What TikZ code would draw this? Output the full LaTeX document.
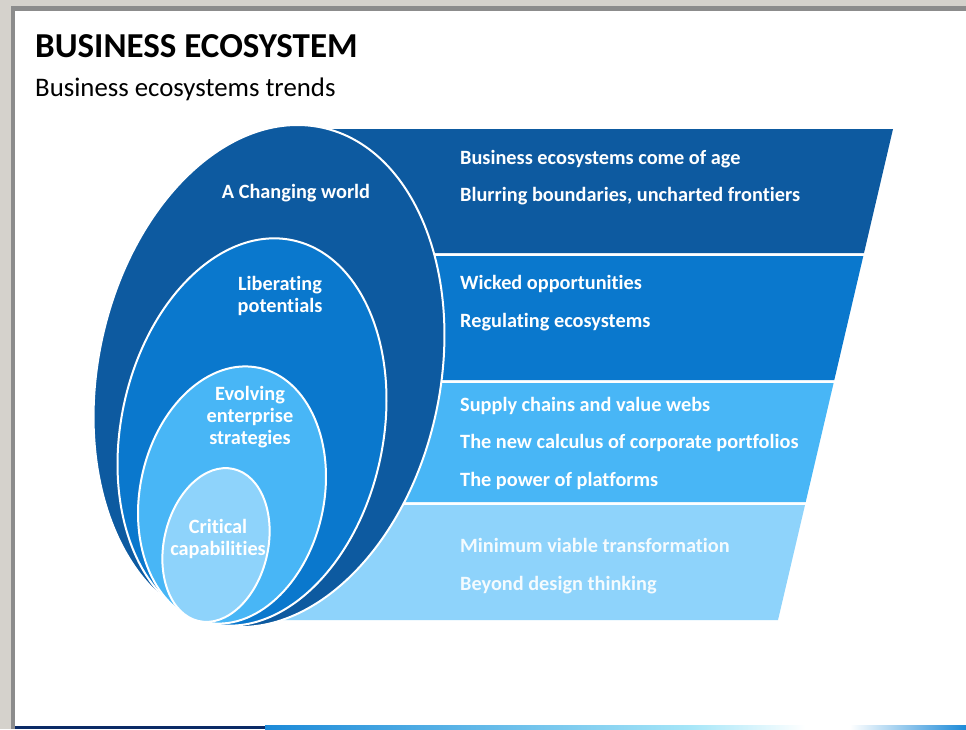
\documentclass[tikz,border=0pt]{standalone}
\usepackage{fontspec}
\setmainfont{Carlito}[Ligatures={NoCommon}]
\definecolor{frameGrey}{HTML}{D5D2CC}
\definecolor{frameEdge}{HTML}{8C8C8C}
\definecolor{tierA}{HTML}{0D5AA0}
\definecolor{tierB}{HTML}{0A78CD}
\definecolor{tierC}{HTML}{48B6F6}
\definecolor{tierD}{HTML}{8ED3FB}
\definecolor{barNavy}{HTML}{0B2A66}
\definecolor{barBlue}{HTML}{1C8AD8}
\definecolor{barCyan}{HTML}{A6E6F8}
\begin{document}
\begin{tikzpicture}[x=1pt,y=-1pt,
  ring/.style={draw=white, line width=2pt},
  bandtext/.style={text=white, anchor=west, inner sep=0pt,
    text height=14pt, text depth=5pt,
    font=\bfseries\fontsize{20.3}{22}\selectfont},
  ringtext/.style={text=white, align=center, inner sep=0pt,
    font=\bfseries\fontsize{20.3}{22}\selectfont}]
\useasboundingbox (0,0) rectangle (966,729);

% slide frame
\fill[frameGrey] (0,0) rectangle (966,729);
\fill[frameEdge] (11,6) rectangle (966,729);
\fill[white] (15,11) rectangle (966,729);

% bottom stripe
\fill[barNavy] (15,725.5) rectangle (265,729);
\shade[left color=barBlue, right color=barCyan] (265,725.5) rectangle (690,729);
\shade[left color=barCyan, right color=white] (690,725.5) rectangle (805,729);
\fill[white] (805,725.5) rectangle (850,729);
\shade[left color=white, right color=barBlue] (850,725.5) rectangle (966,729);

% titles
\node[anchor=base west, inner sep=0pt, font=\bfseries\fontsize{35}{40}\selectfont] (title) at (35,57) {BUSINESS ECOSYSTEM};
\node[anchor=base west, inner sep=0pt, font=\fontsize{26.8}{30}\selectfont] (subtitle) at (35,96) {Business ecosystems trends};

% slanted bands
\fill[tierA] (300,129) -- (893,129) -- (864,253) -- (300,253) -- cycle;
\fill[tierB] (350,256) -- (863.3,256) -- (834.3,380) -- (350,380) -- cycle;
\fill[tierC] (350,383) -- (833.6,383) -- (805.7,502) -- (330,502) -- cycle;
\fill[tierD] (330,505) -- (805,505) -- (778,620) -- (255,620) -- cycle;

% nested ellipses
\begin{scope}[rotate around={-12:(269,376)}]
  \filldraw[ring, fill=tierA] (269,376) ellipse [x radius=171, y radius=254];
\end{scope}
\begin{scope}[rotate around={-12:(252,432)}]
  \filldraw[ring, fill=tierB] (252,432) ellipse [x radius=131, y radius=196];
\end{scope}
\begin{scope}[rotate around={-12:(232,495)}]
  \filldraw[ring, fill=tierC] (232,495) ellipse [x radius=92, y radius=130];
\end{scope}
\begin{scope}[rotate around={-13:(216,545)}]
  \filldraw[ring, fill=tierD] (216,545) ellipse [x radius=52, y radius=78];
\end{scope}

% ellipse labels
\node[ringtext] (world) at (296,193) {A Changing world};
\node[ringtext] (liberating) at (280,296) {Liberating\\potentials};
\node[ringtext] (evolving) at (250,417) {Evolving\\enterprise\\strategies};
\node[ringtext] (critical) at (218,539) {Critical\\capabilities};

% band texts
\node[bandtext] (a1) at (460,160) {Business ecosystems come of age};
\node[bandtext] (a2) at (460,197) {Blurring boundaries, uncharted frontiers};
\node[bandtext] (b1) at (460,285) {Wicked opportunities};
\node[bandtext] (b2) at (460,323) {Regulating ecosystems};
\node[bandtext] (c1) at (460,407) {Supply chains and value webs};
\node[bandtext] (c2) at (460,444) {The new calculus of corporate portfolios};
\node[bandtext] (c3) at (460,482) {The power of platforms};
\node[bandtext, text=white!90!tierD] (d1) at (460,548) {Minimum viable transformation};
\node[bandtext, text=white!90!tierD] (d2) at (460,586) {Beyond design thinking};
\end{tikzpicture}
\end{document}
